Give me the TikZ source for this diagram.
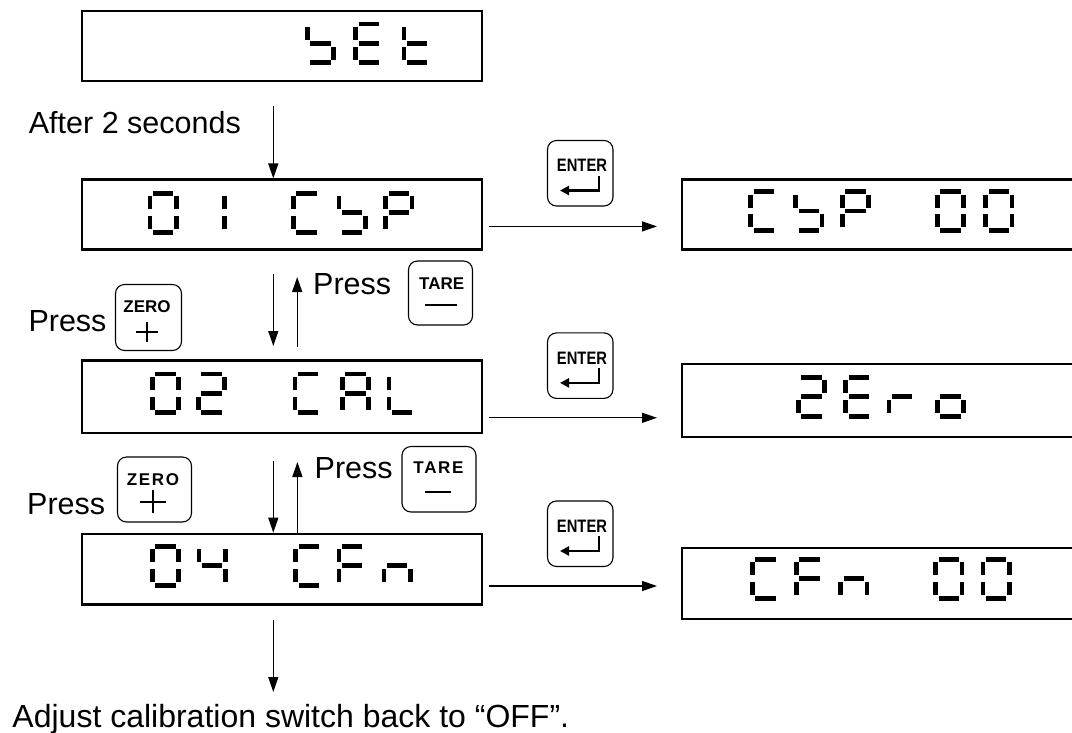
\documentclass[tikz,border=0pt]{standalone}
\usepackage{fontspec}
\setmainfont{Liberation Sans}
\newfontfamily\condsans{Liberation Sans}[FakeStretch=0.82]
\newfontfamily\spacedsans{Liberation Sans}[LetterSpace=10]
\usetikzlibrary{arrows.meta}
% seven-segment pieces (cell 31 x 43.5)
\newcommand\ssega{\fill (5.4,0) rectangle (25.6,4.6);}
\newcommand\ssegg{\fill (5.4,19.45) rectangle (25.6,24.05);}
\newcommand\ssegd{\fill (5.4,38.9) rectangle (25.6,43.5);}
\newcommand\ssegf{\fill (0,5.4) rectangle (4.6,18.45);}
\newcommand\ssege{\fill (0,25.05) rectangle (4.6,38.1);}
\newcommand\ssegb{\fill (26.4,5.4) rectangle (31,18.45);}
\newcommand\ssegc{\fill (26.4,25.05) rectangle (31,38.1);}
\newcommand\segchar[3]{\begin{scope}[shift={(#1,#2)}]\foreach \s in {#3}{\csname sseg\s\endcsname}\end{scope}}
\begin{document}
\begin{tikzpicture}[x=1pt,y=-1pt,
  lcd/.style={draw=black, line width=2.2pt, inner sep=0pt, minimum width=400.3pt},
  rlcd/.style={draw=black, line width=2.2pt, inner sep=0pt, minimum width=408.3pt},
  keybox/.style={draw=black, line width=1.1pt, rounded corners=9pt, inner sep=0pt},
  flow/.style={line width=1.3pt, -{Triangle[length=15pt,width=10pt]}},
  lbl/.style={font=\fontsize{30.5}{36}\selectfont, inner sep=0pt, anchor=base west},
  keylbl/.style={font=\bfseries\fontsize{17}{18}\selectfont, inner sep=0pt},
  sym/.style={line width=2pt},
  ret/.style={line width=2.6pt, -{Triangle[length=9pt,width=9pt]}}
]
\clip (0,0) rectangle (1072,732);
\useasboundingbox (0,0) rectangle (1072,732);

% ---------- display boxes ----------
\node[lcd, minimum height=70.6pt] (b0) at (281.85,46) {};
\node[lcd, minimum height=70pt]   (b1) at (281.85,214.5) {};
\node[lcd, minimum height=72.3pt] (b2) at (281.85,396.65) {};
\node[lcd, minimum height=70.7pt] (b3) at (281.85,569.15) {};
\node[rlcd, minimum height=70pt]   (r1) at (885.85,214.5) {};
\node[rlcd, minimum height=73.5pt] (r2) at (885.85,400.55) {};
\node[rlcd, minimum height=70.4pt] (r3) at (885.85,583.5) {};

% ---------- seven-segment characters ----------
% SEt
\segchar{305}{21.5}{f,g,c,d}
\segchar{353.3}{21.5}{a,f,g,e,d}
\segchar{401.7}{21.5}{f,e,g,d}
% 01 CSP
\segchar{147.8}{191}{a,b,c,d,e,f}
\segchar{195.6}{191}{b,c}
\segchar{291}{191}{a,f,e,d}
\segchar{336.7}{191}{f,g,c,d}
\segchar{383.3}{191}{a,b,f,g,e}
% 02 CAL
\segchar{150}{371.5}{a,b,c,d,e,f}
\segchar{196}{371.5}{a,b,g,e,d}
\segchar{292.7}{371.5}{a,f,e,d}
\segchar{340}{371.5}{a,b,c,e,f,g}
\segchar{386.7}{371.5}{f,e,d}
% 04 CFn
\segchar{150}{544}{a,b,c,d,e,f}
\segchar{196.7}{544}{f,b,g,c}
\segchar{293.3}{544}{a,f,e,d}
\segchar{336.7}{544}{a,f,g,e}
\segchar{381.7}{544}{e,g,c}
% CSP 00
\segchar{748.3}{189.3}{a,f,e,d}
\segchar{793.3}{189.3}{f,g,c,d}
\segchar{840}{189.3}{a,b,f,g,e}
\segchar{935}{189.3}{a,b,c,d,e,f}
\segchar{983.3}{189.3}{a,b,c,d,e,f}
% 2Ero
\segchar{796}{375}{a,b,g,e,d}
\segchar{843.3}{375}{a,f,g,e,d}
\segchar{886.7}{375}{e,g}
\segchar{935}{375}{e,g,c,d}
% CFn 00
\segchar{750}{557}{a,f,e,d}
\segchar{794}{557}{a,f,g,e}
\segchar{838.3}{557}{e,g,c}
\segchar{933.3}{557}{a,b,c,d,e,f}
\segchar{980.7}{557}{a,b,c,d,e,f}

% ---------- keys ----------
\foreach \k/\y in {1/173.25,2/365.65,3/533.75}{
  \node[keybox, minimum width=65.5pt, minimum height=65.5pt] (ek\k) at (580.25,\y) {};
  \node[inner sep=0pt, font=\condsans\bfseries\fontsize{18}{19}\selectfont] (et\k) at ([xshift=1.75pt,yshift=7.75pt]ek\k.center) {ENTER};
  \coordinate (rs\k) at ([xshift=18.75pt,yshift=-2.25pt]ek\k.center);
  \coordinate (rc\k) at ([xshift=18.75pt,yshift=-17.25pt]ek\k.center);
  \coordinate (re\k) at ([xshift=-20.25pt,yshift=-17.25pt]ek\k.center);
  \draw[ret] (rs\k) -- (rc\k) -- (re\k);
}
\node[keybox, minimum width=66pt, minimum height=66pt] (zk1) at (148.5,317.5) {};
\node[keylbl] (zt1) at (147,306.7) {ZERO};
\draw[sym] (136,331.7) -- (158,331.7) (147,321.7) -- (147,341.7);

\node[keybox, minimum width=74pt, minimum height=65pt] (zk2) at (154.5,489.5) {};
\node[keylbl, font=\spacedsans\bfseries\fontsize{17}{18}\selectfont] (zt2) at (153,479.3) {ZERO};
\draw[sym] (140,501.7) -- (165.7,501.7) (153,490) -- (153,513);

\node[keybox, minimum width=64pt, minimum height=64pt] (tk1) at (440.5,293) {};
\node[keylbl] (tt1) at (441.7,283.3) {TARE};
\draw[sym] (425,305) -- (456.7,305);

\node[keybox, minimum width=74pt, minimum height=65.5pt] (tk2) at (439,479.25) {};
\node[keylbl, font=\spacedsans\bfseries\fontsize{17}{18}\selectfont] (tt2) at (438.5,467.8) {TARE};
\draw[sym] (425,491.5) -- (451,491.5);

% ---------- labels ----------
\node[lbl] (l0) at (28.7,133) {After 2 seconds};
\node[lbl] (l1) at (313,294) {Press};
\node[lbl] (l2) at (28.3,331) {Press};
\node[lbl] (l3) at (314.5,478.5) {Press};
\node[lbl] (l4) at (27,514.5) {Press};
\node[lbl, font=\fontsize{32}{38}\selectfont] (l5) at (12.3,727) {Adjust calibration switch back to “OFF”.};

% ---------- connectors ----------
\coordinate (a0) at (273.3,106);
\draw[flow] (a0) -- (a0 |- b1.north);

\coordinate (d1s) at (273.3,274);
\coordinate (d1e) at (273.3,346);
\draw[flow] (d1s) -- (d1e);
\coordinate (u1s) at (297.2,347);
\coordinate (u1e) at (297.2,277);
\draw[flow] (u1s) -- (u1e);

\coordinate (d2s) at (273.3,461);
\draw[flow] (d2s) -- (d2s |- b3.north);
\coordinate (u2) at (297.4,462);
\draw[flow] (u2 |- b3.north) -- (u2);

\coordinate (d3s) at (273.3,620);
\coordinate (d3e) at (273.3,692);
\draw[flow] (d3s) -- (d3e);

\foreach \i/\yy in {1/226.4,2/417.8,3/586}{
  \coordinate (hs\i) at (488.8,\yy);
  \coordinate (he\i) at (657,\yy);
  \draw[flow] (hs\i) -- (he\i);
}
\end{tikzpicture}
\end{document}
